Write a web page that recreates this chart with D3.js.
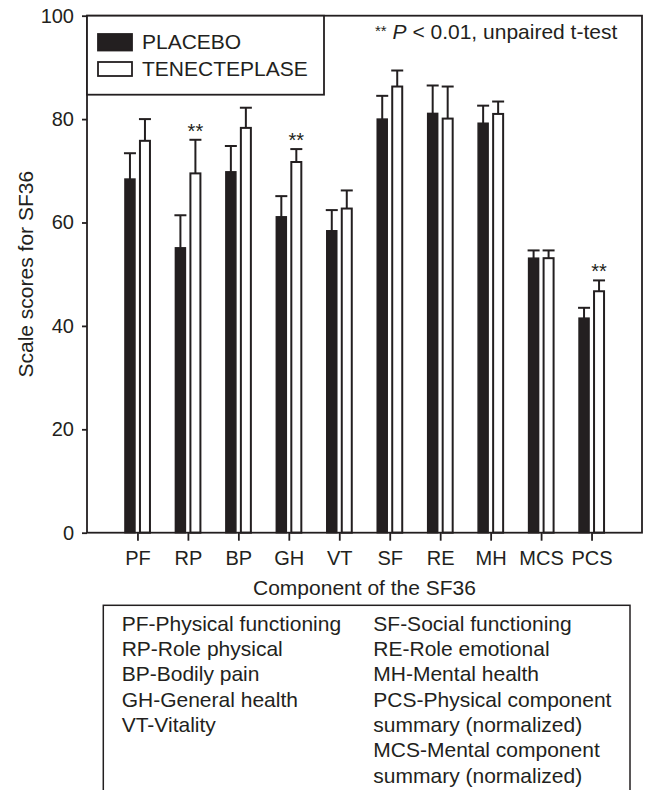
<!DOCTYPE html>
<html>
<head>
<meta charset="utf-8">
<script src="https://cdn.jsdelivr.net/npm/d3@7"></script>
<style>
  body { margin: 0; background: #fff; }
  text { font-family: "Liberation Sans", Arial, sans-serif; fill: #231f20; }
</style>
</head>
<body>
<div id="chart"></div>
<script>
// SF36 components
var categories = ["PF", "RP", "BP", "GH", "VT", "SF", "RE", "MH", "MCS", "PCS"];
var placebo    = [68.4, 55.1, 69.8, 61.1, 58.4, 80.0, 81.1, 79.2, 53.1, 41.5];
var placeboErr = [5.0, 6.3, 5.0, 4.0, 4.0, 4.5, 5.4, 3.4, 1.5, 2.0];
var tnk        = [75.8, 69.5, 78.3, 71.7, 62.7, 86.3, 80.1, 81.0, 53.1, 46.7];
var tnkErr     = [4.2, 6.5, 3.9, 2.5, 3.5, 3.1, 6.2, 2.4, 1.5, 2.1];
var significant = ["RP", "GH", "PCS"];
var yTicks = [0, 20, 40, 60, 80, 100];
var seriesNames = ["PLACEBO", "TENECTEPLASE"];
var leftNotes = ["PF-Physical functioning", "RP-Role physical", "BP-Bodily pain",
                 "GH-General health", "VT-Vitality"];
var rightNotes = ["SF-Social functioning", "RE-Role emotional", "MH-Mental health",
                  "PCS-Physical component", "summary (normalized)",
                  "MCS-Mental component", "summary (normalized)"];

var ink = "#231f20";
var W = 645, H = 790;
// plot area (avoid window.top clash)
var pL = 87, pR = 642, pT = 15.7, pB = 532.7;

var svg = d3.select("#chart").append("svg")
    .attr("width", W)
    .attr("height", H);

var x = d3.scalePoint().domain(categories).range([pL, pR]).padding(1);
var y = d3.scaleLinear().domain([0, 100]).range([pB, pT]);

var barW = 10, off = 7.5;

var data = categories.map(function (c, i) {
    return { cat: c, p: placebo[i], pe: placeboErr[i], t: tnk[i], te: tnkErr[i] };
});

// error bars (upper only)
var cap = 6;
function errBar(g, cx, v, e) {
    g.append("line").attr("x1", cx).attr("x2", cx)
        .attr("y1", y(v)).attr("y2", y(v + e))
        .attr("stroke", ink).attr("stroke-width", 2);
    g.append("line").attr("x1", cx - cap).attr("x2", cx + cap)
        .attr("y1", y(v + e)).attr("y2", y(v + e))
        .attr("stroke", ink).attr("stroke-width", 2);
}

var bars = svg.append("g");
data.forEach(function (d) {
    var cx = x(d.cat);
    errBar(bars, cx - off, d.p, d.pe);
    errBar(bars, cx + off, d.t, d.te);
});

bars.selectAll(".pl").data(data).enter().append("rect")
    .attr("x", d => x(d.cat) - off - barW / 2)
    .attr("y", d => y(d.p))
    .attr("width", barW)
    .attr("height", d => y(0) - y(d.p))
    .attr("fill", ink).attr("stroke", ink).attr("stroke-width", 1.5);

bars.selectAll(".tn").data(data).enter().append("rect")
    .attr("x", d => x(d.cat) + off - barW / 2)
    .attr("y", d => y(d.t))
    .attr("width", barW)
    .attr("height", d => y(0) - y(d.t))
    .attr("fill", "#fff").attr("stroke", ink).attr("stroke-width", 2);

// significance stars
bars.selectAll(".sig").data(data.filter(d => significant.indexOf(d.cat) >= 0)).enter()
    .append("text")
    .attr("x", d => x(d.cat) + off)
    .attr("y", d => y(d.t + d.te) - 2)
    .attr("text-anchor", "middle")
    .attr("font-size", 20)
    .text("**");

// frame
svg.append("rect")
    .attr("x", pL).attr("y", pT)
    .attr("width", pR - pL).attr("height", pB - pT)
    .attr("fill", "none").attr("stroke", ink).attr("stroke-width", 1.8);

// axes
var yAxis = svg.append("g")
    .attr("transform", "translate(" + pL + ",0)")
    .call(d3.axisLeft(y).tickValues(yTicks).tickSize(5).tickPadding(8).tickSizeOuter(0));
yAxis.select(".domain").remove();
yAxis.selectAll("line").attr("stroke", ink).attr("stroke-width", 1.8);
yAxis.selectAll("text").attr("font-size", 20).attr("font-family", null).attr("fill", ink);

var xAxis = svg.append("g")
    .attr("transform", "translate(0," + pB + ")")
    .call(d3.axisBottom(x).tickSize(8).tickPadding(10).tickSizeOuter(0));
xAxis.select(".domain").remove();
xAxis.selectAll("line").attr("stroke", ink).attr("stroke-width", 1.8);
xAxis.selectAll("text").attr("font-size", 20).attr("font-family", null).attr("fill", ink);

// axis titles
svg.append("text")
    .attr("x", (pL + pR) / 2).attr("y", 595)
    .attr("text-anchor", "middle").attr("font-size", 21)
    .text("Component of the SF36");

svg.append("text")
    .attr("transform", "translate(33," + ((pT + pB) / 2) + ") rotate(-90)")
    .attr("text-anchor", "middle").attr("font-size", 21)
    .text("Scale scores for SF36");

// legend
var lg = svg.append("g");
lg.append("rect").attr("x", pL).attr("y", pT).attr("width", 237).attr("height", 79)
    .attr("fill", "#fff").attr("stroke", ink).attr("stroke-width", 1.8);
lg.selectAll(".sw").data(seriesNames).enter().append("rect")
    .attr("x", 98).attr("y", (d, i) => i == 0 ? 34 : 62)
    .attr("width", 34).attr("height", (d, i) => i == 0 ? 16.5 : 14)
    .attr("fill", (d, i) => i == 0 ? ink : "#fff")
    .attr("stroke", ink).attr("stroke-width", 1.8);
lg.selectAll(".lt").data(seriesNames).enter().append("text")
    .attr("x", 142).attr("y", (d, i) => i == 0 ? 49 : 76)
    .attr("font-size", 21)
    .text(d => d);

// p-value note
var note = svg.append("text").attr("x", 375).attr("y", 39).attr("font-size", 21);
note.append("tspan").attr("font-size", 15).attr("dy", -3).text("**");
note.append("tspan").attr("dy", 3).text(" ");
note.append("tspan").attr("font-style", "italic").text("P");
note.append("tspan").text(" < 0.01, unpaired t-test");

// abbreviations box
svg.append("rect").attr("x", 103.3).attr("y", 605.3).attr("width", 526.7).attr("height", 200)
    .attr("fill", "none").attr("stroke", ink).attr("stroke-width", 1.5);
var lineStep = 25.3;
svg.selectAll(".ln").data(leftNotes).enter().append("text")
    .attr("x", 121.7).attr("y", (d, i) => 630.7 + i * lineStep)
    .attr("font-size", 21).text(d => d);
svg.selectAll(".rn").data(rightNotes).enter().append("text")
    .attr("x", 373.3).attr("y", (d, i) => 630.7 + i * lineStep)
    .attr("font-size", 21).text(d => d);
</script>
</body>
</html>
